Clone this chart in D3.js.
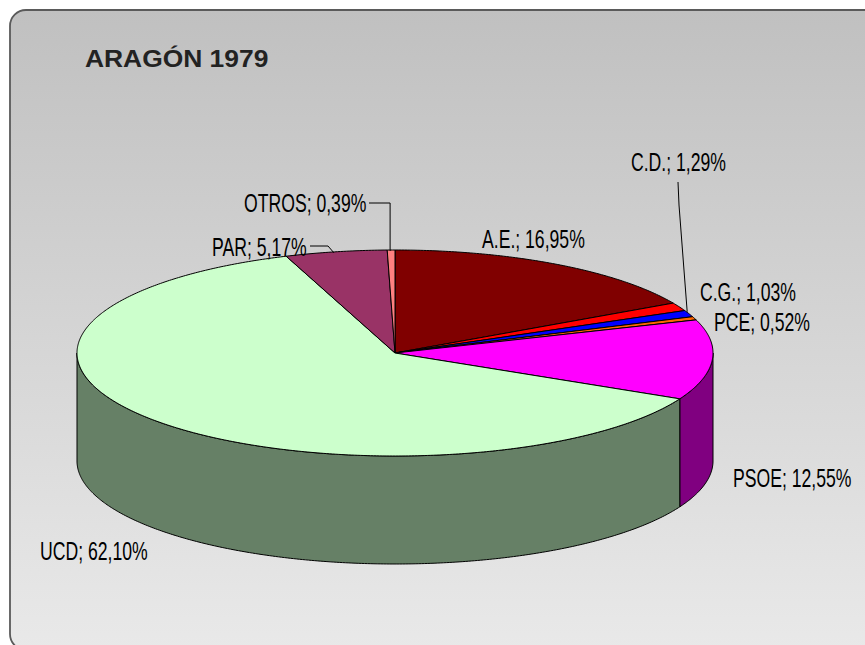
<!DOCTYPE html>
<html lang='es'>

<head>
    <meta charset='UTF-8' />
    <title>Aragón 1979</title>
    <script src="https://cdn.jsdelivr.net/npm/d3@7"></script>
    <style>
        html,
        body {
            margin: 0;
            background: #ffffff;
        }

        svg {
            display: block;
        }

        .lbl {
            font-family: "Liberation Sans", Arial, sans-serif;
            font-size: 21.5px;
            fill: #000;
        }
    </style>
</head>

<body>
    <div id="chart"></div>

    <script>
        // data //
        const parties = ["A.E.", "C.D.", "C.G.", "PCE", "PSOE", "UCD", "PAR", "OTROS"];
        const shares = [16.95, 1.29, 1.03, 0.52, 12.55, 62.10, 5.17, 0.39];
        const topColors = ["#800000", "#ff0000", "#0000ff", "#ff6600", "#ff00ff", "#ccffcc", "#993366", "#ff8080"];

        // label placement (left x, baseline y), as moved by hand in the original
        const labelPlace = {
            "A.E.": [482, 248],
            "C.D.": [631, 171],
            "C.G.": [700, 301],
            "PCE": [714, 331],
            "PSOE": [733, 487],
            "UCD": [40, 560],
            "PAR": [212, 256],
            "OTROS": [244, 212]
        };

        const width = 865, height = 645;
        const cx = 395, cy = 353, rx = 318, ry = 103, depth = 108;

        const svg = d3.select("#chart").append("svg")
            .attr("width", width)
            .attr("height", height);

        // background panel
        const grad = svg.append("defs").append("linearGradient")
            .attr("id", "bg").attr("x1", 0).attr("y1", 0).attr("x2", 0).attr("y2", 1);
        grad.append("stop").attr("offset", "0%").attr("stop-color", "#c0c0c0");
        grad.append("stop").attr("offset", "100%").attr("stop-color", "#e9e9e9");

        svg.append("rect")
            .attr("x", 10).attr("y", 10)
            .attr("width", 900).attr("height", 640)
            .attr("rx", 16).attr("ry", 16)
            .attr("fill", "url(#bg)")
            .attr("stroke", "#5a5a5a")
            .attr("stroke-width", 1.8);

        svg.append("text")
            .attr("transform", "translate(85,67) scale(1.1,1)")
            .attr("font-family", "'Liberation Sans', Arial, sans-serif")
            .attr("font-weight", "bold")
            .attr("font-size", 24)
            .attr("fill", "#222")
            .text("ARAGÓN 1979");

        // pie geometry //
        const rows = parties.map((p, i) => ({ name: p, value: shares[i], color: topColors[i] }));
        const arcs = d3.pie().value(d => d.value).sort(null)
            .startAngle(0).endAngle(2 * Math.PI)(rows);

        const px = a => cx + rx * Math.sin(a);
        const py = a => cy - ry * Math.cos(a);

        function rimPoints(a0, a1, dy) {
            const n = Math.max(2, Math.ceil((a1 - a0) / 0.01));
            return d3.range(n + 1).map(k => {
                const a = a0 + (a1 - a0) * k / n;
                return [px(a), py(a) + dy];
            });
        }

        const line = d3.line();
        const darker = c => {
            const col = d3.rgb(c);
            return d3.rgb(col.r * 0.5, col.g * 0.5, col.b * 0.5).formatHex();
        };

        // side walls, only the front half (90° .. 270°) is visible
        const wallG = svg.append("g");
        arcs.forEach(d => {
            const a0 = Math.max(d.startAngle, Math.PI / 2);
            const a1 = Math.min(d.endAngle, 3 * Math.PI / 2);
            if (a1 <= a0) return;
            const pts = rimPoints(a0, a1, 0).concat(rimPoints(a0, a1, depth).reverse());
            wallG.append("path")
                .attr("d", line(pts) + "Z")
                .attr("fill", darker(d.data.color))
                .attr("stroke", "#000")
                .attr("stroke-width", 1)
                .attr("stroke-linejoin", "round");
        });

        // top faces
        const topG = svg.append("g");
        arcs.forEach(d => {
            const pts = [[cx, cy]].concat(rimPoints(d.startAngle, d.endAngle, 0));
            topG.append("path")
                .attr("d", line(pts) + "Z")
                .attr("fill", d.data.color)
                .attr("stroke", "#000")
                .attr("stroke-width", 1)
                .attr("stroke-linejoin", "round");
        });

        // leader lines for the labels that were pulled away
        const leaders = svg.append("g")
            .attr("fill", "none")
            .attr("stroke", "#000")
            .attr("stroke-width", 1);

        function midRim(name) {
            const d = arcs.find(a => a.data.name === name);
            const m = (d.startAngle + d.endAngle) / 2;
            return [px(m), py(m)];
        }

        const otros = midRim("OTROS");
        leaders.append("path").attr("d", line([[369, 203], [otros[0] - 1, 203], [otros[0] - 1, otros[1] + 1]]));
        const par = midRim("PAR");
        leaders.append("path").attr("d", line([[310, 246], [328, 246], [par[0] - 2, par[1] + 1]]));
        const cd = midRim("C.D.");
        leaders.append("path").attr("d", line([[678, 182], [679, 205], [cd[0] + 8, cd[1] + 5]]));

        // data labels (narrow, tall lettering as in the original)
        svg.append("g").selectAll("text")
            .data(arcs)
            .join("text")
            .attr("class", "lbl")
            .attr("transform", d => {
                const p = labelPlace[d.data.name];
                return `translate(${p[0]},${p[1]}) scale(0.82,1.22)`;
            })
            .text(d => `${d.data.name}; ${d3.format(".2f")(d.data.value).replace(".", ",")}%`);
    </script>
</body>

</html>
